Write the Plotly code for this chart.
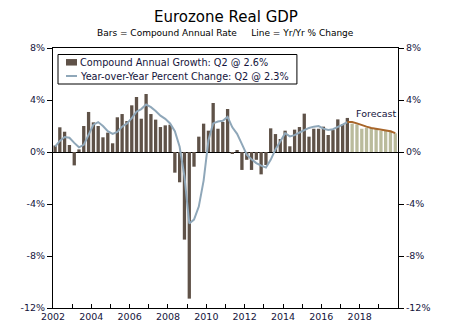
import pandas as pd
import plotly.graph_objects as go

# ---- data ----
first_quarter = "2002Q1"
n_actual = 62     # 2002Q1 .. 2017Q2
n_forecast = 10   # 2017Q3 .. 2019Q4

car_actual = [0.5, 1.9, 1.56, 0.54, -1.03, 0.2, 2.0, 3.08, 2.28, 2.0, 1.13, 1.49,
              0.67, 2.67, 2.92, 2.38, 3.59, 4.23, 2.56, 4.46, 2.92, 2.49, 1.92, 2.05,
              2.1, -1.59, -2.33, -6.74, -11.28, -1.13, 1.18, 2.18, 1.64, 3.77, 1.79, 2.31,
              3.31, -0.1, 0.1, -1.38, -0.6, -1.38, -0.6, -1.72, -1.0, 1.82, 1.38, 1.0,
              1.64, 0.44, 1.72, 1.92, 2.95, 1.18, 1.79, 1.79, 1.95, 1.31, 1.69, 2.51,
              2.13, 2.62]
car_forecast = [2.18, 2.13, 1.79, 1.87, 1.85, 1.79, 1.62, 1.69, 1.64, 1.44]

yoy_actual = [0.41, 0.85, 1.15, 1.1, 0.7, 0.36, 0.55, 1.3, 2.1, 2.3, 2.0, 1.6,
              1.4, 1.55, 1.95, 2.2, 2.6, 3.1, 3.3, 3.65, 3.45, 3.15, 2.8, 2.55,
              2.2, 1.6, 0.4, -1.9, -5.5, -5.2, -4.2, -2.2, 0.9, 2.2, 2.35, 2.4,
              2.7, 1.9, 1.4, 0.6, -0.2, -0.55, -0.85, -1.05, -1.2, -0.6, 0.2, 0.8,
              1.45, 1.2, 1.3, 1.5, 1.7, 1.85, 1.95, 2.0, 1.8, 1.7, 1.75, 1.9,
              2.1, 2.3]
yoy_forecast = [2.3, 2.3, 2.2, 2.05, 1.95, 1.85, 1.78, 1.72, 1.65, 1.6, 1.45]  # from 2017Q2

x_label_years = [2002, 2004, 2006, 2008, 2010, 2012, 2014, 2016, 2018]
y_ticks = [-12, -8, -4, 0, 4, 8]
y_ticklabels = ["-12%", "-8%", "-4%", "0%", "4%", "8%"]

title_text = "Eurozone Real GDP"
subtitle_text = "Bars = Compound Annual Rate\u00a0\u00a0\u00a0\u00a0\u00a0Line = Yr/Yr % Change"
legend_bar = "Compound Annual Growth: Q2 @ 2.6%"
legend_line = "Year-over-Year Percent Change: Q2 @ 2.3%"

# ---- build ----
periods = pd.period_range(first_quarter, periods=n_actual + n_forecast, freq="Q")
dates = [p.start_time + pd.Timedelta(days=40) for p in periods]
d_act = dates[:n_actual]
d_fc = dates[n_actual:]
d_fc_line = dates[n_actual - 1:]

BAR_C = "#5f5248"
FC_BAR_C = "#babb9c"
LINE_C = "#8fa7b9"
FC_LINE_C = "#a8662a"
TXT = "#14143c"
FONT = "DejaVu Sans"

fig = go.Figure()
fig.add_trace(go.Bar(x=d_act, y=car_actual, name=legend_bar, showlegend=False,
                     marker=dict(color=BAR_C, line=dict(width=0))))
fig.add_trace(go.Bar(x=d_fc, y=car_forecast, showlegend=False,
                     marker=dict(color=FC_BAR_C, line=dict(width=0))))
fig.add_trace(go.Scatter(x=d_act, y=yoy_actual, name=legend_line, mode="lines",
                         showlegend=False, line=dict(color=LINE_C, width=2)))
fig.add_trace(go.Scatter(x=d_fc_line, y=yoy_forecast, mode="lines", showlegend=False,
                         yaxis="y2", line=dict(color=FC_LINE_C, width=2)))

# legend box (drawn in paper coordinates)
shapes = [
    dict(type="rect", xref="paper", yref="paper", x0=0.0145, x1=0.707, y0=0.8615, y1=0.975,
         line=dict(color="black", width=1), fillcolor="white", layer="above"),
    dict(type="rect", xref="paper", yref="paper", x0=0.0377, x1=0.0696, y0=0.9325, y1=0.9575,
         line=dict(width=0), fillcolor=BAR_C, layer="above"),
    dict(type="line", xref="paper", yref="paper", x0=0.0377, x1=0.0696, y0=0.8923, y1=0.8923,
         line=dict(color=LINE_C, width=2), layer="above"),
]

fig.update_layout(
    width=450, height=326,
    margin=dict(l=53, r=52, t=48, b=18),
    paper_bgcolor="white", plot_bgcolor="white",
    bargap=0.3,
    showlegend=False,
    font=dict(family=FONT, size=10, color=TXT),
    xaxis=dict(type="date", range=["2002-01-01", "2020-01-01"],
               tickvals=[f"{y}-01-01" for y in x_label_years],
               ticktext=[str(y) for y in x_label_years],
               ticks="inside", ticklen=4, tickcolor="black",
               minor=dict(dtick="M12", tick0="2002-01-01", ticks="inside", ticklen=4,
                          tickcolor="black"),
               showline=True, linecolor="black", linewidth=1, mirror=True,
               showgrid=False, zeroline=False, automargin=False,
               tickfont=dict(size=9.5, color=TXT)),
    yaxis=dict(range=[-12, 8], tickvals=y_ticks, ticktext=y_ticklabels,
               ticks="outside", ticklen=5, tickcolor="black",
               showline=True, linecolor="black", linewidth=1, automargin=False,
               showgrid=False, zeroline=True, zerolinecolor="black", zerolinewidth=1,
               tickfont=dict(size=9.5, color=TXT)),
    yaxis2=dict(range=[-12, 8], tickvals=y_ticks, ticktext=y_ticklabels,
                overlaying="y", side="right", automargin=False,
                ticks="outside", ticklen=5, tickcolor="black",
                showline=True, linecolor="black", linewidth=1,
                showgrid=False, zeroline=False,
                tickfont=dict(size=9.5, color=TXT)),
    shapes=shapes,
    annotations=[
        dict(text=title_text, xref="paper", yref="paper", x=0.5, y=1.119,
             xanchor="center", yanchor="middle", showarrow=False,
             font=dict(family=FONT, size=15, color="black")),
        dict(text=subtitle_text, xref="paper", yref="paper", x=0.5, y=1.058,
             xanchor="center", yanchor="middle", showarrow=False,
             font=dict(family=FONT, size=9, color="black")),
        dict(text="Forecast", xref="paper", yref="paper", x=0.935, y=0.75,
             xanchor="center", yanchor="middle", showarrow=False,
             font=dict(family=FONT, size=9.5, color=TXT)),
        dict(text=legend_bar, xref="paper", yref="paper", x=0.0725, y=0.946,
             xanchor="left", yanchor="middle", showarrow=False,
             font=dict(family=FONT, size=9.7, color=TXT)),
        dict(text=legend_line, xref="paper", yref="paper", x=0.0725, y=0.892,
             xanchor="left", yanchor="middle", showarrow=False,
             font=dict(family=FONT, size=9.7, color=TXT)),
    ],
)

fig.write_html("out.html")
